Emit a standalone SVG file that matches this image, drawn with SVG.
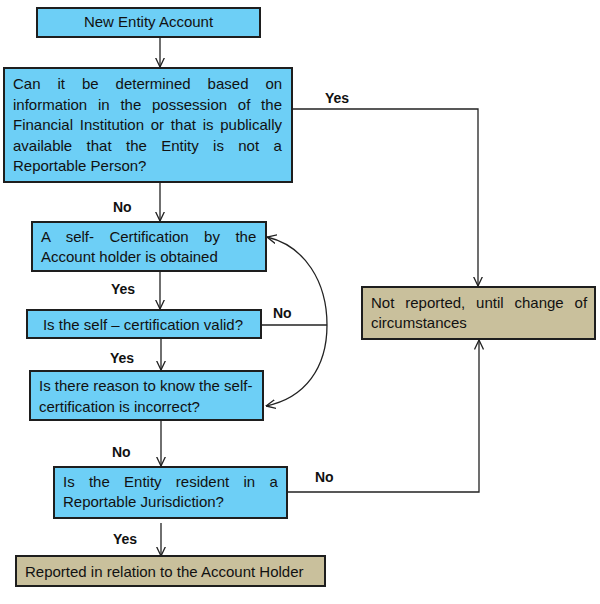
<svg xmlns="http://www.w3.org/2000/svg" width="600" height="604" viewBox="0 0 600 604">
<style>
.q{fill:#6dcff6;stroke:#1e1e1e;stroke-width:2}
.r{fill:#c9c09c;stroke:#1e1e1e;stroke-width:2}
text{font-family:"Liberation Sans",Arial,sans-serif;font-size:15px;fill:#111}
.l{font-weight:bold;font-size:14px}
.c{fill:none;stroke:#222;stroke-width:1.3}
</style>
<defs>
<marker id="ah" viewBox="0 0 10 10" refX="9.5" refY="5" markerWidth="10" markerHeight="10" markerUnits="userSpaceOnUse" orient="auto">
<path d="M0,0.5 L9.5,5 L0,9.5" fill="none" stroke="#222" stroke-width="1.3"/>
</marker>
</defs>
<rect width="600" height="604" fill="#fff"/>
<g id="connectors">
<path class="c" d="M160,37 V67" marker-end="url(#ah)"/>
<path class="c" d="M160,183 V221" marker-end="url(#ah)"/>
<path class="c" d="M160,271 V309" marker-end="url(#ah)"/>
<path class="c" d="M161,338 V370" marker-end="url(#ah)"/>
<path class="c" d="M161,420 V466" marker-end="url(#ah)"/>
<path class="c" d="M161,523 V556" marker-end="url(#ah)"/>
<path class="c" d="M292,109 H478 V286" marker-end="url(#ah)"/>
<path class="c" d="M287,492 H479 V340" marker-end="url(#ah)"/>
<path class="c" d="M261,325 H327"/>
<path class="c" d="M327,325 C327,282 305,246 267,237" marker-end="url(#ah)"/>
<path class="c" d="M327,325 C327,368 305,398 266,406" marker-end="url(#ah)"/>
<text class="l" x="325" y="103">Yes</text>
<text class="l" x="113" y="212">No</text>
<text class="l" x="111" y="294">Yes</text>
<text class="l" x="273" y="318">No</text>
<text class="l" x="110" y="363">Yes</text>
<text class="l" x="112" y="457">No</text>
<text class="l" x="315" y="482">No</text>
<text class="l" x="113" y="544">Yes</text>
</g>
<g id="n1">
<rect class="q" x="37" y="8" width="223" height="29"/>
<text x="148.5" y="27" text-anchor="middle">New Entity Account</text>
</g>
<g id="n2">
<rect class="q" x="4" y="68" width="288" height="114"/>
<text x="13" y="89" word-spacing="12.8">Can it be determined based on</text>
<text x="13" y="109.5" word-spacing="6.6">information in the possession of the</text>
<text x="13" y="130" word-spacing="2.6">Financial Institution or that is publically</text>
<text x="13" y="150.5" word-spacing="10.2">available that the Entity is not a</text>
<text x="13" y="171">Reportable Person?</text>
</g>
<g id="n3">
<rect class="q" x="32" y="222" width="234" height="49"/>
<text x="41" y="242" word-spacing="11.3">A self- Certification by the</text>
<text x="41" y="262">Account holder is obtained</text>
</g>
<g id="n4">
<rect class="q" x="27" y="310" width="234" height="28"/>
<text x="143" y="330" text-anchor="middle">Is the self – certification valid?</text>
</g>
<g id="n5">
<rect class="q" x="30" y="371" width="233" height="49"/>
<text x="39" y="391">Is there reason to know the self-</text>
<text x="39" y="412">certification is incorrect?</text>
</g>
<g id="n6">
<rect class="q" x="54" y="467" width="233" height="51"/>
<text x="63" y="487" word-spacing="10.1">Is the Entity resident in a</text>
<text x="63" y="507">Reportable Jurisdiction?</text>
</g>
<g id="n7">
<rect class="r" x="362" y="287" width="233" height="52"/>
<text x="371" y="308" word-spacing="6.7">Not reported, until change of</text>
<text x="371" y="328">circumstances</text>
</g>
<g id="n8">
<rect class="r" x="16" y="556" width="309" height="30"/>
<text x="25" y="577">Reported in relation to the Account Holder</text>
</g>
</svg>
